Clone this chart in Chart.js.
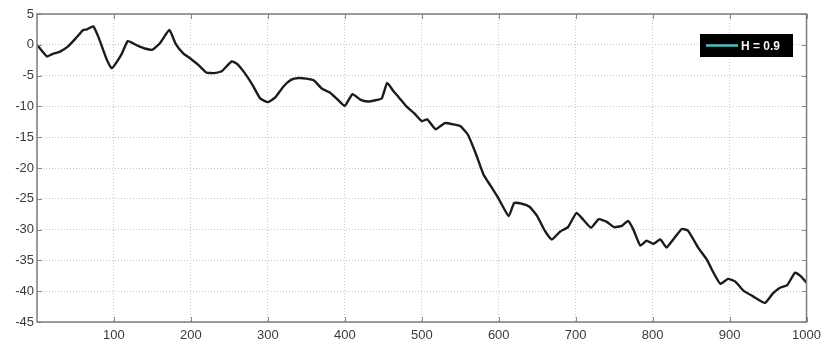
<!DOCTYPE html>
<html>
<head>
<meta charset="utf-8">
<script src="https://cdn.jsdelivr.net/npm/chart.js@4"></script>
<style>
  html, body { margin: 0; padding: 0; background: #fff; }
  #wrap { width: 827px; height: 343px; }
</style>
</head>
<body>
<div id="wrap"><canvas id="chart"></canvas></div>
<script>
// sample positions along the x axis (extra samples at the sharp turns)
const steps = [
    0, 13, 20, 30, 40, 50, 60, 65, 73, 80, 90, 97,
    110, 118, 130, 140, 150, 160, 172, 180, 190,
    200, 210, 220, 230, 240, 253, 260, 270, 280, 290,
    300, 310, 320, 330, 340, 350, 360, 370, 380, 390,
    400, 410, 420, 430, 440, 448, 455, 463, 470, 480, 490,
    500, 507, 518, 530, 540, 550, 560, 570, 580, 590,
    600, 613, 620, 630, 640, 650, 660, 669, 680, 690,
    701, 710, 720, 730, 740, 750, 760, 768, 775, 784, 792,
    801, 810, 818, 828, 838, 846, 860, 870, 880, 888,
    898, 907, 918, 930, 946, 956, 966, 975, 985, 992, 1000
];

// series values
const walk = [
    0, -1.9, -1.5, -1.1, -0.3, 1.0, 2.4, 2.5, 3.0, 1.2, -2.2, -3.8,
    -1.5, 0.6, -0.1, -0.6, -0.8, 0.3, 2.4, 0.2, -1.4,
    -2.3, -3.3, -4.5, -4.6, -4.3, -2.7, -3.1, -4.6, -6.5, -8.7,
    -9.3, -8.5, -6.8, -5.7, -5.4, -5.5, -5.8, -7.1, -7.7, -8.8,
    -9.9, -8.0, -8.9, -9.2, -9.0, -8.7, -6.2, -7.5, -8.5, -10.0, -11.1,
    -12.4, -12.1, -13.7, -12.7, -12.9, -13.2, -14.6, -17.6, -21.0, -23.0,
    -25.0, -27.8, -25.7, -25.8, -26.3, -27.8, -30.2, -31.6, -30.3, -29.6,
    -27.3, -28.4, -29.7, -28.3, -28.7, -29.6, -29.4, -28.6, -30.0, -32.6, -31.8,
    -32.3, -31.6, -32.9, -31.4, -29.9, -30.2, -33.1, -34.8, -37.2, -38.8,
    -38.0, -38.4, -39.9, -40.8, -41.9, -40.4, -39.4, -39.0, -37.0, -37.5, -38.6
];

const seriesLabel = 'H = 0.9';
const xTicks = [100, 200, 300, 400, 500, 600, 700, 800, 900, 1000];
const yTicks = [5, 0, -5, -10, -15, -20, -25, -30, -35, -40, -45];

const points = steps.map((x, i) => ({ x: x, y: walk[i] }));

// frame, inward tick marks and the black legend box
const framePlugin = {
    id: 'frame',
    afterDraw(chart) {
        const ctx = chart.ctx;
        const a = chart.chartArea;
        const xs = chart.scales.x;
        const ys = chart.scales.y;
        ctx.save();
        ctx.strokeStyle = '#8a8a8a';
        ctx.lineWidth = 1;
        ctx.beginPath();
        xTicks.forEach(v => {
            const px = Math.round(xs.getPixelForValue(v)) + 0.5;
            ctx.moveTo(px, a.bottom);
            ctx.lineTo(px, a.bottom - 5);
            ctx.moveTo(px, a.top);
            ctx.lineTo(px, a.top + 5);
        });
        yTicks.forEach(v => {
            const py = Math.round(ys.getPixelForValue(v)) + 0.5;
            ctx.moveTo(a.left, py);
            ctx.lineTo(a.left + 5, py);
            ctx.moveTo(a.right, py);
            ctx.lineTo(a.right - 5, py);
        });
        ctx.stroke();
        ctx.strokeStyle = '#7d7d7d';
        ctx.lineWidth = 1.5;
        ctx.strokeRect(a.left, a.top, a.right - a.left, a.bottom - a.top);

        // legend
        const bx = 700, by = 34, bw = 93, bh = 23;
        ctx.fillStyle = '#000';
        ctx.fillRect(bx, by, bw, bh);
        ctx.strokeStyle = '#4fc3c3';
        ctx.lineWidth = 2.5;
        ctx.beginPath();
        ctx.moveTo(bx + 6, by + bh / 2);
        ctx.lineTo(bx + 38, by + bh / 2);
        ctx.stroke();
        ctx.fillStyle = '#f2f2f2';
        ctx.font = 'bold 12px "Liberation Sans", Arial, sans-serif';
        ctx.textBaseline = 'middle';
        ctx.fillText(seriesLabel, bx + 41, by + bh / 2 + 1);
        ctx.restore();
    }
};

new Chart(document.getElementById('chart').getContext('2d'), {
    type: 'line',
    data: {
        datasets: [
            {
                label: seriesLabel,
                data: points,
                borderColor: '#1c1c1c',
                borderWidth: 2.4,
                pointRadius: 0,
                tension: 0.15,
                fill: false,
            },
        ],
    },
    options: {
        responsive: true,
        maintainAspectRatio: false,
        animation: false,
        layout: {
            padding: { top: 14, right: 17, left: 0, bottom: 0 },
        },
        plugins: {
            legend: { display: false },
            tooltip: { enabled: false },
        },
        scales: {
            x: {
                type: 'linear',
                min: 0,
                max: 1000,
                afterBuildTicks: scale => {
                    scale.ticks = [0].concat(xTicks).map(v => ({ value: v }));
                },
                afterFit: scale => { scale.height = 21; },
                grid: {
                    color: '#c8c8c8',
                    lineWidth: 1,
                    drawTicks: false,
                },
                border: { display: false, dash: [1, 2] },
                ticks: {
                    padding: 6,
                    color: '#3a3a3a',
                    maxRotation: 0,
                    font: { family: '"Liberation Sans", Arial, sans-serif', size: 13 },
                    callback: v => (v === 0 ? '' : v),
                },
            },
            y: {
                min: -45,
                max: 5,
                afterBuildTicks: scale => {
                    scale.ticks = yTicks.slice().reverse().map(v => ({ value: v }));
                },
                afterFit: scale => { scale.width = 37; },
                grid: {
                    color: '#c8c8c8',
                    lineWidth: 1,
                    drawTicks: false,
                },
                border: { display: false, dash: [1, 2] },
                ticks: {
                    padding: 3,
                    color: '#3a3a3a',
                    font: { family: '"Liberation Sans", Arial, sans-serif', size: 13 },
                },
            },
        },
    },
    plugins: [framePlugin],
});
</script>
</body>
</html>
